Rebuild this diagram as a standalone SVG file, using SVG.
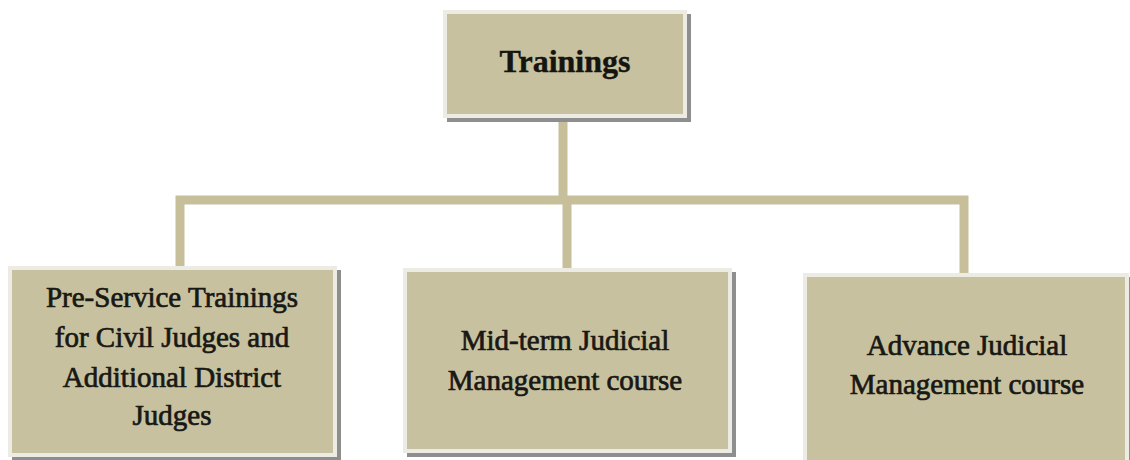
<svg xmlns="http://www.w3.org/2000/svg" width="1130" height="460" viewBox="0 0 1130 460">
<style>
.shadow{fill:#8e8e8e}
.frame{fill:#ecebe4}
.box{fill:#c8c19f}
.conn{stroke:#c6bf9a;stroke-width:9;fill:none;stroke-linecap:butt;stroke-linejoin:miter}
.t{font-family:"Liberation Serif","Times New Roman",serif;font-size:29px;fill:#181814;stroke:#181814;stroke-width:0.7;text-anchor:middle}
.title{font-family:"Liberation Serif","Times New Roman",serif;font-size:32px;font-weight:bold;fill:#141410;stroke:#141410;stroke-width:0.4;text-anchor:middle}
</style>
<rect width="1130" height="460" fill="#ffffff"/>
<g id="connectors">
<path class="conn" d="M563 118 V200"/>
<path class="conn" d="M180 268 V200 H964 V275"/>
<path class="conn" d="M567 200 V270"/>
</g>
<g id="node-trainings">
<rect class="shadow" x="447" y="14" width="244" height="108"/>
<rect class="frame" x="443" y="10" width="244" height="108"/>
<rect class="box" x="447" y="14" width="236" height="100"/>
<text class="title" x="565" y="72">Trainings</text>
</g>
<g id="node-preservice">
<rect class="shadow" x="12" y="270" width="329" height="191"/>
<rect class="frame" x="8" y="266" width="329" height="191"/>
<rect class="box" x="12" y="270" width="321" height="183"/>
<text class="t" x="172" y="307">Pre-Service Trainings</text>
<text class="t" x="172" y="347">for Civil Judges and</text>
<text class="t" x="172" y="387">Additional District</text>
<text class="t" x="172" y="425">Judges</text>
</g>
<g id="node-midterm">
<rect class="shadow" x="407" y="272" width="329" height="185"/>
<rect class="frame" x="403" y="268" width="329" height="185"/>
<rect class="box" x="407" y="272" width="321" height="177"/>
<text class="t" x="565" y="350">Mid-term Judicial</text>
<text class="t" x="565" y="390">Management course</text>
</g>
<g id="node-advance">
<rect class="shadow" x="807" y="277" width="326" height="190"/>
<rect class="frame" x="803" y="273" width="326" height="190"/>
<rect class="box" x="807" y="277" width="318" height="190"/>
<text class="t" x="967" y="355">Advance Judicial</text>
<text class="t" x="967" y="394">Management course</text>
</g>
</svg>
